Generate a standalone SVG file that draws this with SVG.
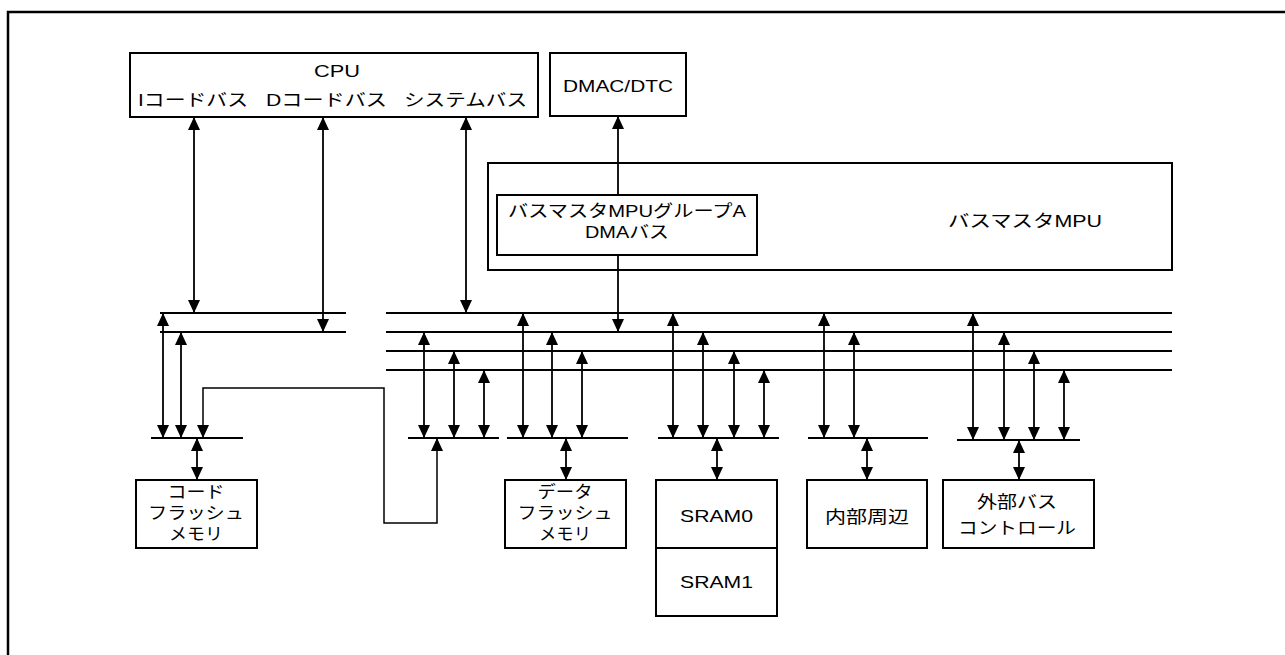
<svg xmlns="http://www.w3.org/2000/svg" width="1285" height="655" viewBox="0 0 1285 655">
<style>
.box{fill:#fff;stroke:#000;stroke-width:2}
.bus{stroke:#000;stroke-width:2.2;fill:none}
.ar{stroke:#000;stroke-width:1.8;fill:none;marker-start:url(#ah);marker-end:url(#ah)}
.ar1{stroke:#000;stroke-width:1.8;fill:none;marker-end:url(#ah)}
.ln{stroke:#000;stroke-width:1.5;fill:none}
text{font-family:"Liberation Sans","Noto Sans CJK JP",sans-serif;font-size:17px;fill:#000;text-anchor:middle}
</style>
<defs>
<marker id="ah" viewBox="0 0 13 12" refX="13" refY="6" markerWidth="13" markerHeight="12" markerUnits="userSpaceOnUse" orient="auto-start-reverse">
<path d="M0,0 L13,6 L0,12 z" fill="#000"/>
</marker>
</defs>
<rect x="0" y="0" width="1285" height="655" fill="#fff"/>
<rect x="8" y="12" width="1300" height="680" fill="none" stroke="#000" stroke-width="2.5"/>

<g id="connectors">
<path class="bus" d="M160,313H346M160,332H346M386,313H1172M386,332H1172M386,351H1172M386,370H1172"/>
<path class="bus" d="M151,438H243M408,438H499M507,438H628M658,438H779M808,438H928M957,440H1080"/>
<line class="ar" x1="194" y1="117" x2="194" y2="313"/>
<line class="ar" x1="323" y1="117" x2="323" y2="332"/>
<line class="ar" x1="466" y1="117" x2="466" y2="313"/>
<line class="ar1" x1="618" y1="195" x2="618" y2="116"/>
<line class="ar1" x1="618" y1="255" x2="618" y2="332"/>
<line class="ar" x1="163" y1="313" x2="163" y2="438"/>
<line class="ar" x1="181" y1="332" x2="181" y2="438"/>
<path class="ar" d="M437,438V523H384V388H203V438" style="stroke-width:1.5"/>
<line class="ar" x1="424" y1="332" x2="424" y2="438"/>
<line class="ar" x1="454" y1="351" x2="454" y2="438"/>
<line class="ar" x1="484" y1="370" x2="484" y2="438"/>
<line class="ar" x1="523" y1="313" x2="523" y2="438"/>
<line class="ar" x1="552" y1="332" x2="552" y2="438"/>
<line class="ar" x1="582" y1="351" x2="582" y2="438"/>
<line class="ar" x1="673" y1="313" x2="673" y2="438"/>
<line class="ar" x1="703" y1="332" x2="703" y2="438"/>
<line class="ar" x1="734" y1="351" x2="734" y2="438"/>
<line class="ar" x1="764" y1="370" x2="764" y2="438"/>
<line class="ar" x1="824" y1="313" x2="824" y2="438"/>
<line class="ar" x1="854" y1="332" x2="854" y2="438"/>
<line class="ar" x1="973" y1="313" x2="973" y2="440"/>
<line class="ar" x1="1004" y1="332" x2="1004" y2="440"/>
<line class="ar" x1="1034" y1="351" x2="1034" y2="440"/>
<line class="ar" x1="1064" y1="370" x2="1064" y2="440"/>
<line class="ar" x1="197" y1="438" x2="197" y2="480"/>
<line class="ar" x1="566" y1="438" x2="566" y2="480"/>
<line class="ar" x1="717" y1="438" x2="717" y2="480"/>
<line class="ar" x1="867" y1="438" x2="867" y2="480"/>
<line class="ar" x1="1019" y1="440" x2="1019" y2="480"/>
</g>

<g id="cpu">
<rect class="box" x="130" y="53" width="408" height="64"/>
<text x="337" y="77" textLength="46" lengthAdjust="spacingAndGlyphs">CPU</text>
<text x="193" y="106" textLength="110" lengthAdjust="spacingAndGlyphs">Iコードバス</text>
<text x="326.5" y="106" textLength="121" lengthAdjust="spacingAndGlyphs">Dコードバス</text>
<text x="465.5" y="106" textLength="123" lengthAdjust="spacingAndGlyphs">システムバス</text>
</g>

<g id="dmac">
<rect class="box" x="550" y="53" width="136" height="63"/>
<text x="618" y="92" textLength="110" lengthAdjust="spacingAndGlyphs">DMAC/DTC</text>
</g>

<g id="mpu">
<rect x="488" y="163" width="684" height="107" fill="none" stroke="#000" stroke-width="2"/>
<text x="1025" y="227" textLength="154" lengthAdjust="spacingAndGlyphs">バスマスタMPU</text>
</g>

<g id="mpu-group-a">
<rect class="box" x="497" y="195" width="260" height="60"/>
<text x="627" y="217" textLength="238" lengthAdjust="spacingAndGlyphs">バスマスタMPUグループA</text>
<text x="627" y="238" textLength="84" lengthAdjust="spacingAndGlyphs">DMAバス</text>
</g>

<g id="code-flash">
<rect class="box" x="136" y="480" width="121" height="68"/>
<text x="196" y="498" textLength="57" lengthAdjust="spacingAndGlyphs">コード</text>
<text x="196" y="519" textLength="96" lengthAdjust="spacingAndGlyphs">フラッシュ</text>
<text x="196" y="540" textLength="54" lengthAdjust="spacingAndGlyphs">メモリ</text>
</g>

<g id="data-flash">
<rect class="box" x="505" y="480" width="121" height="68"/>
<text x="565" y="498" textLength="55" lengthAdjust="spacingAndGlyphs">データ</text>
<text x="565" y="519" textLength="95" lengthAdjust="spacingAndGlyphs">フラッシュ</text>
<text x="565" y="540" textLength="52" lengthAdjust="spacingAndGlyphs">メモリ</text>
</g>

<g id="sram">
<rect class="box" x="656" y="480" width="121" height="136"/>
<line x1="656" y1="548" x2="777" y2="548" stroke="#000" stroke-width="2"/>
<text x="716.5" y="522" textLength="73" lengthAdjust="spacingAndGlyphs">SRAM0</text>
<text x="716.5" y="588" textLength="73" lengthAdjust="spacingAndGlyphs">SRAM1</text>
</g>

<g id="peripheral">
<rect class="box" x="807" y="480" width="120" height="68"/>
<text x="867" y="523" textLength="84" lengthAdjust="spacingAndGlyphs">内部周辺</text>
</g>

<g id="ext-bus">
<rect class="box" x="943" y="480" width="151" height="68"/>
<text x="1017" y="508" textLength="80" lengthAdjust="spacingAndGlyphs">外部バス</text>
<text x="1017" y="534" textLength="118" lengthAdjust="spacingAndGlyphs">コントロール</text>
</g>
</svg>
